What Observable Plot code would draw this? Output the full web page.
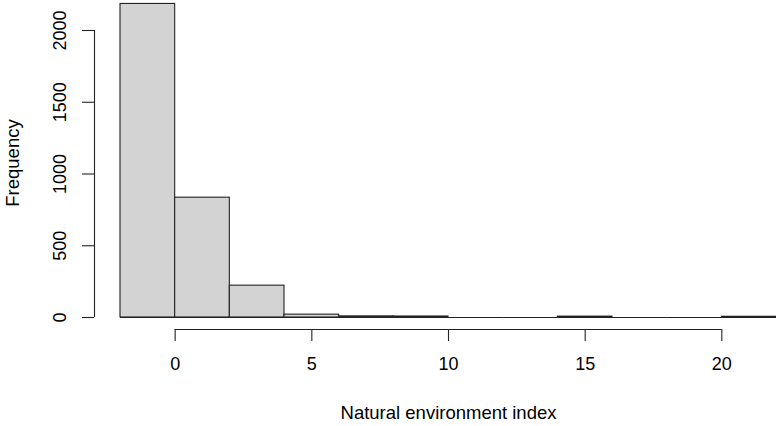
<!DOCTYPE html>
<html>
<head>
<meta charset="utf-8">
<script src="https://cdn.jsdelivr.net/npm/d3@7"></script>
<script src="https://cdn.jsdelivr.net/npm/@observablehq/plot@0.6"></script>
<style>
  html, body { margin: 0; padding: 0; background: #fff; }
  #chart { width: 776px; height: 426px; overflow: hidden; }
</style>
</head>
<body>
<div id="chart"></div>
<script>
// Histogram bins (left edges), bin width 2
const binStart = [-2, 0, 2, 4, 6, 8, 10, 12, 14, 16, 18, 20];
const binWidth = 2;
const counts   = [2185, 835, 222, 20, 8, 7, 0, 0, 6, 0, 0, 5];
const xTicks = [0, 5, 10, 15, 20];
const yTicks = [0, 500, 1000, 1500, 2000];
const xTitle = "Natural environment index";
const yTitle = "Frequency";

const bins = binStart.map((s, i) => ({x1: s, x2: s + binWidth, y: counts[i]}));
const font = "'Liberation Sans', Arial, sans-serif";
const fmt = d => String(d);

const chart = Plot.plot({
  width: 776,
  height: 426,
  marginLeft: 120,
  marginRight: 0,
  marginTop: 0,
  marginBottom: 109,
  style: {fontFamily: font, fontSize: "18px", background: "#fff", color: "#000", overflow: "visible"},
  x: {domain: [binStart[0], binStart[binStart.length - 1] + binWidth]},
  y: {domain: [0, 2209]},
  marks: [
    // zero-height bins are drawn by R as a line on the baseline
    Plot.ruleY(bins, {x1: "x1", x2: "x2", y: 0, stroke: "#222", strokeWidth: 1.1}),
    Plot.rectY(bins, {x1: "x1", x2: "x2", y: "y", fill: "#d3d3d3", stroke: "#222", strokeWidth: 1.1}),
    // y axis (R style, offset from the plot region)
    Plot.ruleX([{x: binStart[0], y1: yTicks[0], y2: yTicks[yTicks.length - 1]}],
      {x: "x", y1: "y1", y2: "y2", dx: -26, stroke: "#222", strokeWidth: 1.1}),
    Plot.axisY({anchor: "left", ticks: yTicks, tickSize: 12, dx: -26, stroke: "#222", strokeWidth: 1.1,
      tickFormat: () => "", label: null}),
    Plot.axisY({anchor: "left", ticks: yTicks, tickSize: 0, tickPadding: 34, dx: -26,
      rotate: -90, textAnchor: "middle", fontSize: 18, fill: "#000", tickFormat: fmt, label: null}),
    // x axis
    Plot.ruleY([{y: 0, x1: xTicks[0], x2: xTicks[xTicks.length - 1]}],
      {y: "y", x1: "x1", x2: "x2", dy: 12, stroke: "#222", strokeWidth: 1.1}),
    Plot.axisX({anchor: "bottom", ticks: xTicks, tickSize: 12, tickPadding: 16, dy: 12,
      fontSize: 18, fill: "#000", stroke: "#222", strokeWidth: 1.1, tickFormat: fmt, label: null}),
    // titles
    Plot.text([xTitle], {frameAnchor: "bottom", dy: 96, lineAnchor: "middle", fontSize: 18.5, fill: "#000"}),
    Plot.text([yTitle], {frameAnchor: "left", dx: -107, dy: 4, rotate: -90, textAnchor: "middle", lineAnchor: "middle", fontSize: 18.5, fill: "#000"})
  ]
});
document.getElementById("chart").appendChild(chart);
</script>
</body>
</html>
